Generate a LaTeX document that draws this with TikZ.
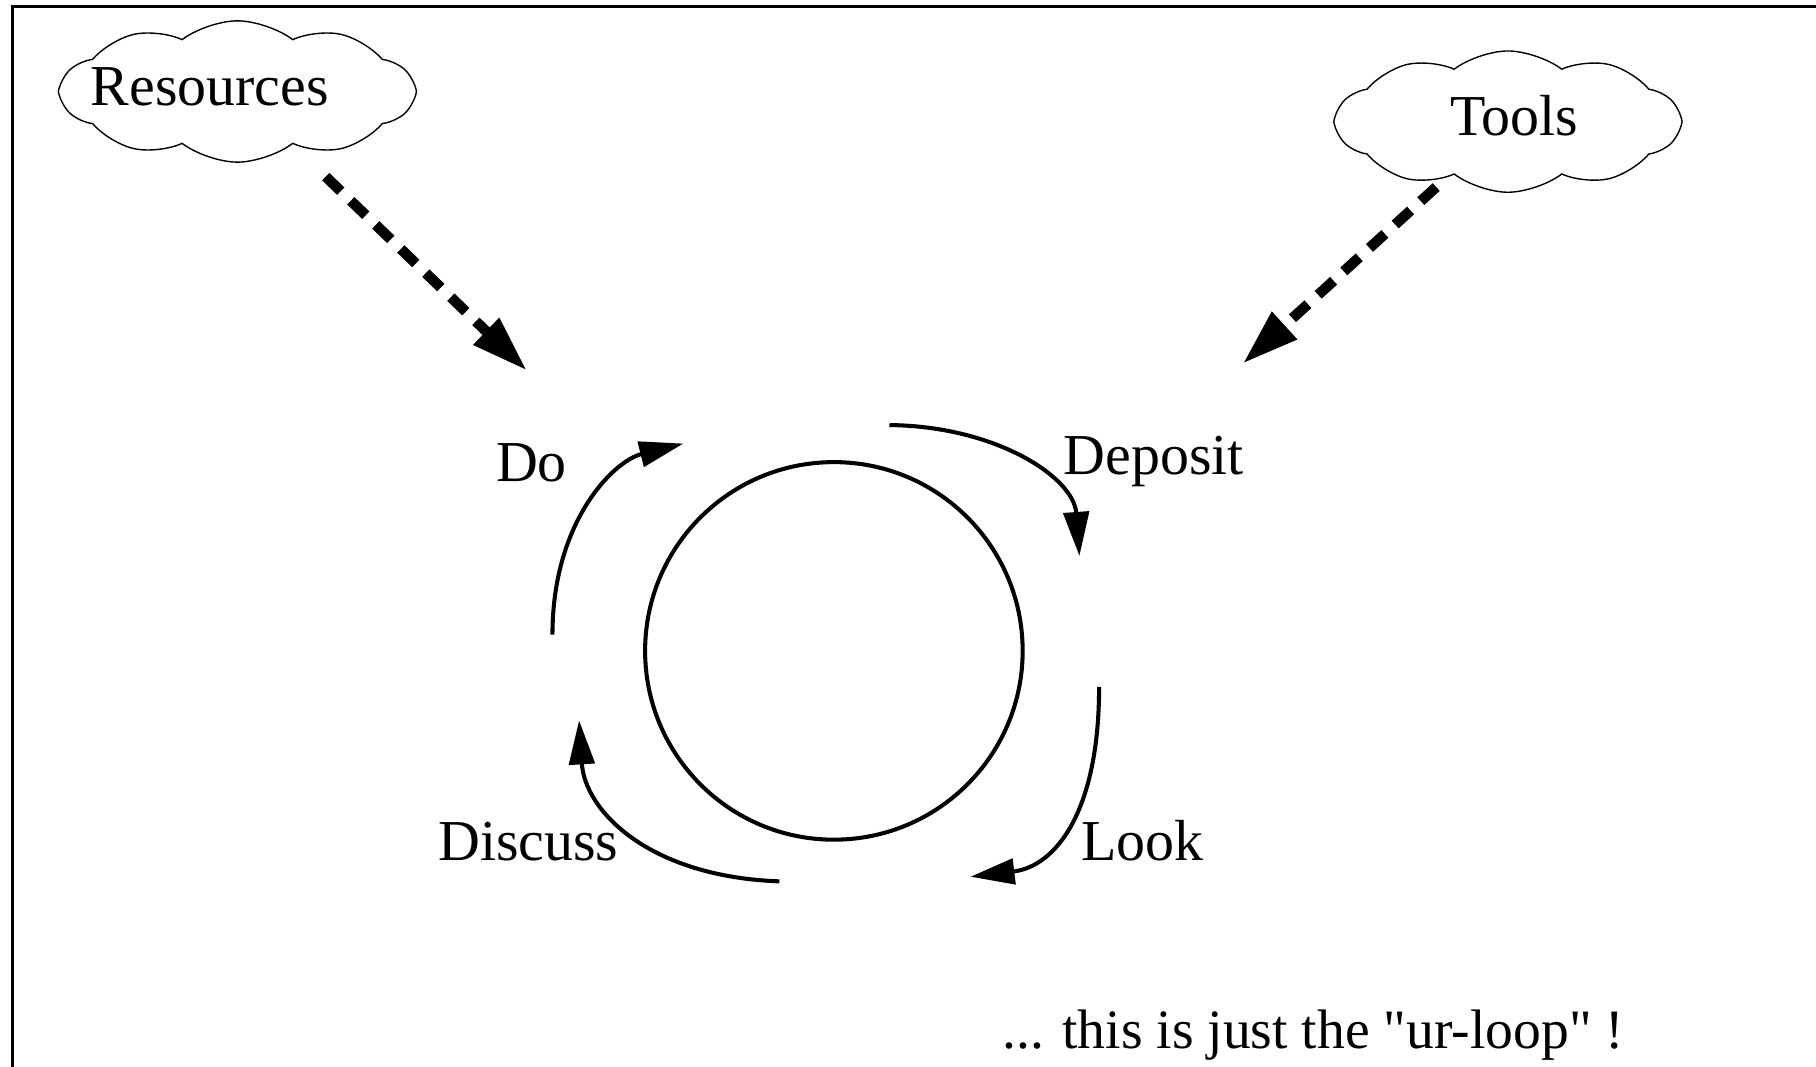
\documentclass[tikz,border=0pt]{standalone}
\usepackage{fontspec}
\setmainfont{Liberation Serif}[Ligatures=TeXOff]
\usetikzlibrary{arrows.meta,shapes.symbols}

\newcommand{\PageW}{1568}
\newcommand{\PageH}{920.5}
\newcommand{\LoopR}{163}

\begin{document}
\begin{tikzpicture}[
  x = 0.5pt, y = -0.5pt,
  frame/.style={line width=1.45pt,black},
  puff/.style={cloud,draw,line width=0.6pt,cloud puffs=10,cloud puff arc=75,
    cloud ignores aspect,inner sep=0pt},
  loopline/.style={line width=1.75pt,black},
  turn/.style={loopline,-{Triangle[length=19pt,width=11pt]}},
  feed/.style={line width=4.5pt,dash pattern=on 9pt off 6pt,
    -{Triangle[length=24.5pt,width=15pt]}},
  word/.style={font=\fontsize{25}{30}\selectfont,inner sep=0pt,anchor=base west}
  ]

	\useasboundingbox (0,0) rectangle (\PageW,\PageH);
	\clip (0,0) rectangle (\PageW,\PageH);

	%draw the frame
	\draw[frame] (10.8,5.8) rectangle (\PageW+40,\PageH+40);

	%draw the clouds
	\node[puff,minimum width=152pt,minimum height=61pt] (res) at (205,79) {};
	\node[word] (restxt) at (78,90.7) {Resources};
	\node[puff,minimum width=148pt,minimum height=61pt] (tools) at (1302,105) {};
	\node[word] (toolstxt) at (1252,116.6) {Tools};

	%draw the loop
	\node[loopline,draw,circle,minimum size=2*\LoopR*0.5pt,inner sep=0pt] (loop) at (720,562) {};

	\coordinate (do0) at (477,548);
	\coordinate (do1) at (590,383);
	\coordinate (dep0) at (768,367);
	\coordinate (dep1) at (932,480);
	\coordinate (look0) at (949,593);
	\coordinate (look1) at (838,757);
	\coordinate (dis0) at (673,761);
	\coordinate (dis1) at (500,622);

	\draw[turn] (do0) .. controls (477,450) and (530,398) .. (do1);
	\draw[turn] (dep0) .. controls (860,368) and (927,412) .. (dep1);
	\draw[turn] (look0) .. controls (949,700) and (912,748) .. (look1);
	\draw[turn] (dis0) .. controls (560,757) and (505,700) .. (dis1);

	\node[word] (do) at (428,416) {Do};
	\node[word] (deposit) at (918,410) {Deposit};
	\node[word] (look) at (933,743) {Look};
	\node[word] (discuss) at (378,743) {Discuss};

	%draw the inputs
	\coordinate (doin) at (455,320);
	\coordinate (depin) at (1073,314);
	\draw[feed,shorten <=20pt] (res) -- (doin);
	\draw[feed,shorten <=6pt] (tools) -- (depin);

	\node[word,font=\fontsize{24}{29}\selectfont] (note) at (865,905) {... this is just the "ur-loop" !};

\end{tikzpicture}
\end{document}
